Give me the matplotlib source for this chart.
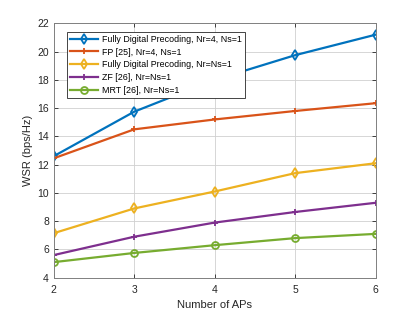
import matplotlib.pyplot as plt

plt.rcParams['font.family'] = ['Liberation Sans', 'DejaVu Sans']

num_aps = [2, 3, 4, 5, 6]
fd_nr4 = [12.6, 15.75, 18.0, 19.75, 21.2]
fp_nr4 = [12.45, 14.5, 15.2, 15.8, 16.35]
fd_nr1 = [7.15, 8.9, 10.1, 11.4, 12.1]
zf_nr1 = [5.6, 6.9, 7.9, 8.65, 9.3]
mrt_nr1 = [5.1, 5.75, 6.3, 6.8, 7.1]

labels = ["Fully Digital Precoding, Nr=4, Ns=1",
          "FP [25], Nr=4, Ns=1",
          "Fully Digital Precoding, Nr=Ns=1",
          "ZF [26], Nr=Ns=1",
          "MRT [26], Nr=Ns=1"]

fig = plt.figure(figsize=(4.15, 3.12), dpi=100)
ax = fig.add_axes([0.1295, 0.11, 0.7755, 0.815])

lw = 1.6
ax.plot(num_aps, fd_nr4, color='#0072BD', lw=lw, marker='d', ms=5, mfc='none', mew=1.3, label=labels[0])
ax.plot(num_aps, fp_nr4, color='#D95319', lw=lw, marker='+', ms=5, mew=1.3, label=labels[1])
ax.plot(num_aps, fd_nr1, color='#EDB120', lw=lw, marker='d', ms=5, mfc='none', mew=1.3, label=labels[2])
ax.plot(num_aps, zf_nr1, color='#7E2F8E', lw=lw, marker='+', ms=5, mew=1.3, label=labels[3])
ax.plot(num_aps, mrt_nr1, color='#77AC30', lw=lw, marker='o', ms=5, mfc='none', mew=1.3, label=labels[4])

ax.set_xlim(2, 6)
ax.set_ylim(4, 22)
ax.set_xticks(num_aps)
ax.set_yticks(range(4, 23, 2))
ax.grid(True, color='#d0d0d0', lw=0.6)
ax.set_axisbelow(True)
ax.tick_params(direction='in', labelsize=7.5, colors='#262626', length=3, width=0.6,
               top=True, right=True)
ax.tick_params(axis='x', pad=5)
for s in ax.spines.values():
    s.set_color('#808080')
    s.set_linewidth(0.7)

ax.set_xlabel("Number of APs", fontsize=8, color='#262626', labelpad=4)
ax.set_ylabel("WSR (bps/Hz)", fontsize=8, color='#262626', labelpad=3)

leg = ax.legend(loc='upper left', bbox_to_anchor=(0.027, 0.985), fontsize=6.4,
                fancybox=False, framealpha=1, edgecolor='#262626',
                borderpad=0.35, labelspacing=0.42, handlelength=3.2, handletextpad=0.35)
leg.get_frame().set_linewidth(0.6)

fig.savefig('out.png', dpi=100)
